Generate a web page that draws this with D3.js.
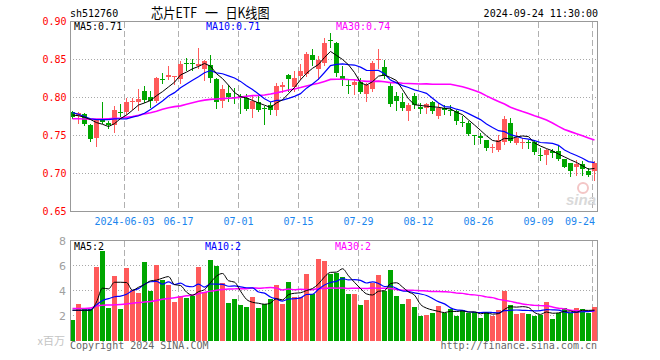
<!DOCTYPE html>
<html><head><meta charset="utf-8">
<script src="https://cdn.jsdelivr.net/npm/d3@7"></script>
<style>body{margin:0;background:#fff}svg{display:block}</style>
</head><body>
<svg id="c" width="660" height="360"></svg>
<script>
const dates = [
"2024-05-21","2024-05-22","2024-05-23","2024-05-24","2024-05-27","2024-05-28","2024-05-29","2024-05-30","2024-05-31",
"2024-06-03","2024-06-04","2024-06-05","2024-06-06","2024-06-07","2024-06-11","2024-06-12","2024-06-13","2024-06-14",
"2024-06-17","2024-06-18","2024-06-19","2024-06-20","2024-06-21","2024-06-24","2024-06-25","2024-06-26","2024-06-27","2024-06-28",
"2024-07-01","2024-07-02","2024-07-03","2024-07-04","2024-07-05","2024-07-08","2024-07-09","2024-07-10","2024-07-11","2024-07-12",
"2024-07-15","2024-07-16","2024-07-17","2024-07-18","2024-07-19","2024-07-22","2024-07-23","2024-07-24","2024-07-25","2024-07-26",
"2024-07-29","2024-07-30","2024-07-31","2024-08-01","2024-08-02","2024-08-05","2024-08-06","2024-08-07","2024-08-08","2024-08-09",
"2024-08-12","2024-08-13","2024-08-14","2024-08-15","2024-08-16","2024-08-19","2024-08-20","2024-08-21","2024-08-22","2024-08-23",
"2024-08-26","2024-08-27","2024-08-28","2024-08-29","2024-08-30","2024-09-02","2024-09-03","2024-09-04","2024-09-05","2024-09-06",
"2024-09-09","2024-09-10","2024-09-11","2024-09-12","2024-09-13","2024-09-18","2024-09-19","2024-09-20","2024-09-23","2024-09-24"];

const open = [0.7807,0.7760,0.7780,0.7636,0.7470,0.7700,0.7670,0.7640,0.7810,0.7803,
0.7940,0.7939,0.8088,0.8000,0.7956,0.8246,0.8268,0.8270,0.8246,0.8456,
0.8450,0.8412,0.8378,0.8430,0.8237,0.7960,0.8053,0.8007,0.8020,0.7996,
0.7855,0.7940,0.7864,0.7895,0.7842,0.8137,0.8294,0.8137,0.8282,0.8303,
0.8553,0.8369,0.8457,0.8763,0.8720,0.8282,0.8158,0.8158,0.8207,0.8040,
0.8118,0.8496,0.8400,0.8150,0.8018,0.7943,0.7821,0.8018,0.7873,0.7864,
0.7943,0.7755,0.7864,0.7842,0.7821,0.7680,0.7667,0.7505,0.7487,0.7447,
0.7338,0.7303,0.7417,0.7667,0.7404,0.7404,0.7417,0.7417,0.7241,0.7250,
0.7294,0.7294,0.7193,0.7141,0.7084,0.7128,0.7039,0.7039];
const high = [0.7825,0.7810,0.7794,0.7650,0.7720,0.7945,0.7690,0.7886,0.7910,0.7991,
0.7990,0.8114,0.8153,0.8088,0.8268,0.8320,0.8417,0.8285,0.8482,0.8526,
0.8510,0.8650,0.8490,0.8560,0.8260,0.8163,0.8163,0.8128,0.8040,0.8040,
0.8018,0.8018,0.7887,0.7943,0.8194,0.8207,0.8312,0.8347,0.8443,0.8601,
0.8632,0.8545,0.8786,0.8851,0.8730,0.8421,0.8237,0.8237,0.8260,0.8194,
0.8479,0.8632,0.8500,0.8194,0.8075,0.8062,0.7930,0.8062,0.7930,0.7930,
0.7960,0.7930,0.7900,0.7900,0.7842,0.7755,0.7690,0.7510,0.7536,0.7447,
0.7382,0.7505,0.7755,0.7724,0.7549,0.7470,0.7447,0.7426,0.7338,0.7316,
0.7316,0.7373,0.7193,0.7141,0.7184,0.7163,0.7075,0.7163];
const low = [0.7728,0.7670,0.7640,0.7430,0.7364,0.7660,0.7600,0.7544,0.7760,0.7780,
0.7850,0.7840,0.7940,0.7880,0.7940,0.8189,0.8246,0.8176,0.8189,0.8364,
0.8360,0.8386,0.8224,0.8210,0.7864,0.7874,0.7953,0.7930,0.7799,0.7842,
0.7742,0.7820,0.7645,0.7786,0.7776,0.8075,0.8084,0.8084,0.8237,0.8282,
0.8426,0.8237,0.8426,0.8663,0.8282,0.8171,0.8062,0.8049,0.8062,0.7953,
0.8084,0.8391,0.8260,0.7887,0.7829,0.7842,0.7710,0.7864,0.7799,0.7799,
0.7799,0.7733,0.7786,0.7764,0.7654,0.7624,0.7505,0.7382,0.7404,0.7303,
0.7286,0.7295,0.7391,0.7417,0.7391,0.7329,0.7338,0.7259,0.7184,0.7128,
0.7216,0.7184,0.7084,0.6966,0.6974,0.6983,0.6966,0.6921];
const close = [0.7746,0.7790,0.7650,0.7456,0.7706,0.7680,0.7640,0.7838,0.7790,0.7939,
0.7960,0.7980,0.7970,0.7956,0.8254,0.8224,0.8290,0.8280,0.8439,0.8439,
0.8440,0.8443,0.8480,0.8260,0.7943,0.8118,0.8009,0.8000,0.7987,0.7855,
0.7960,0.7842,0.7851,0.7842,0.8150,0.8159,0.8247,0.8260,0.8347,0.8575,
0.8492,0.8500,0.8720,0.8742,0.8316,0.8229,0.8145,0.8207,0.8075,0.8158,
0.8457,0.8510,0.8282,0.7908,0.7960,0.7864,0.7895,0.7900,0.7855,0.7917,
0.7821,0.7864,0.7829,0.7821,0.7697,0.7658,0.7522,0.7492,0.7470,0.7338,
0.7351,0.7447,0.7711,0.7426,0.7470,0.7417,0.7404,0.7286,0.7228,0.7303,
0.7268,0.7197,0.7092,0.7039,0.7128,0.7053,0.6974,0.7141];

const ma5 = [0.777,0.776,0.774,0.771,0.767,0.7648,0.7618,0.7656,0.7723,0.7769,
0.7833,0.7901,0.7928,0.7961,0.8024,0.8077,0.8139,0.8201,0.8297,0.8334,
0.8378,0.8408,0.8448,0.8412,0.8313,0.8249,0.8162,0.8066,0.8011,0.7994,
0.7962,0.7929,0.7899,0.787,0.7929,0.7969,0.805,0.8132,0.8233,0.8318,
0.8384,0.8435,0.8527,0.8606,0.8554,0.8501,0.843,0.8328,0.8194,0.8163,
0.8208,0.8281,0.8296,0.8263,0.8223,0.8105,0.7982,0.7905,0.7895,0.7886,
0.7878,0.7871,0.7857,0.785,0.7806,0.7774,0.7705,0.7638,0.7568,0.7496,
0.7435,0.742,0.7463,0.7455,0.7481,0.7494,0.7486,0.7401,0.7361,0.7328,
0.7298,0.7256,0.7218,0.718,0.7145,0.7102,0.7057,0.7067];
const ma10 = [0.780,0.778,0.775,0.772,0.771,0.771,0.771,0.772,0.772,0.772,
0.7741,0.776,0.7792,0.7842,0.7897,0.7955,0.802,0.8064,0.8129,0.8179,
0.8227,0.8274,0.8325,0.8355,0.8324,0.8313,0.8285,0.8257,0.8212,0.8154,
0.8106,0.8045,0.7983,0.7941,0.7961,0.7966,0.7989,0.8015,0.8051,0.8123,
0.8177,0.8242,0.8329,0.8419,0.8436,0.8443,0.8433,0.8427,0.84,0.8358,
0.8355,0.8356,0.8312,0.8229,0.8193,0.8157,0.8132,0.8101,0.8079,0.8055,
0.7991,0.7927,0.7881,0.7873,0.7846,0.7826,0.7788,0.7748,0.7709,0.7651,
0.7604,0.7563,0.7551,0.7511,0.7489,0.7464,0.7453,0.7432,0.7408,0.7404,
0.7396,0.7371,0.7309,0.727,0.7236,0.72,0.7157,0.7142];
const ma30 = [0.772,0.772,0.7718,0.7715,0.7715,0.7715,0.772,0.7725,0.773,0.774,
0.775,0.7765,0.7785,0.780,0.782,0.7845,0.7865,0.788,0.789,0.791,
0.793,0.795,0.7965,0.7975,0.798,0.7985,0.799,0.7995,0.8005,0.8017,
0.8025,0.8026,0.8033,0.8046,0.8061,0.8078,0.8098,0.8112,0.8131,0.8152,
0.817,0.8187,0.8212,0.8238,0.824,0.8241,0.8236,0.8233,0.8221,0.8212,
0.8212,0.8215,0.8208,0.8196,0.8197,0.8188,0.8185,0.8181,0.8177,0.8179,
0.8174,0.8175,0.8174,0.8174,0.8158,0.8142,0.8118,0.8092,0.8063,0.8021,
0.7983,0.7948,0.7915,0.7871,0.7843,0.7816,0.7791,0.776,0.7732,0.7703,
0.7664,0.762,0.758,0.7551,0.7524,0.7497,0.7466,0.7441];

const volume = [1.65,2.9,2.5,2.5,5.87,7.17,2.59,5.15,2.5,5.79,
4.05,3.79,6.27,3.97,6.05,4.85,4.43,3.07,3.6,3.39,
3.6,5.87,3.87,6.43,6.0,4.61,2.99,3.31,2.85,2.67,
3.47,2.59,2.93,3.33,4.45,2.93,4.69,3.52,3.52,5.33,
3.73,6.53,6.35,5.31,5.41,5.09,3.73,3.73,2.85,3.25,
4.64,5.23,4.0,5.65,3.57,2.93,3.31,2.67,1.97,2.05,
2.19,2.75,2.19,2.51,1.97,2.45,2.24,2.27,1.79,2.27,
1.97,2.45,3.97,2.83,2.11,2.19,2.11,1.97,2.05,3.07,
1.71,2.24,2.59,2.19,2.59,2.51,2.19,2.67];
const vma5 = [2.42,2.42,2.42,2.42,3.08,4.19,4.13,4.66,4.66,4.64,
4.02,4.26,4.48,4.77,4.83,4.99,5.11,4.47,4.4,3.87,
3.62,3.91,4.07,4.63,5.15,5.36,4.78,4.67,3.95,3.29,
3.06,2.98,2.9,3.0,3.35,3.25,3.67,3.78,3.82,4.0,
4.16,4.53,5.09,5.45,5.47,5.74,5.18,4.65,4.16,3.73,
3.64,3.94,3.99,4.55,4.62,4.28,3.89,3.63,2.89,2.59,
2.44,2.33,2.23,2.34,2.32,2.37,2.27,2.29,2.14,2.2,
2.11,2.15,2.49,2.7,2.67,2.71,2.64,2.24,2.09,2.28,
2.18,2.21,2.33,2.36,2.26,2.42,2.41,2.43];
const vma10 = [2.42,2.42,2.42,2.45,2.85,3.2,3.35,3.5,3.55,3.7,
4.0,4.15,4.5,4.7,4.73,4.5,4.69,4.48,4.59,4.35,
4.3,4.51,4.27,4.52,4.51,4.49,4.34,4.37,4.29,4.22,
4.21,3.88,3.79,3.48,3.32,3.15,3.32,3.34,3.41,3.68,
3.7,4.1,4.44,4.64,4.73,4.95,4.85,4.87,4.81,4.6,
4.69,4.56,4.32,4.36,4.17,3.96,3.92,3.81,3.72,3.6,
3.36,3.11,2.93,2.61,2.45,2.41,2.3,2.26,2.24,2.26,
2.24,2.21,2.39,2.42,2.44,2.41,2.4,2.37,2.39,2.47,
2.45,2.43,2.29,2.22,2.27,2.3,2.31,2.38];
const vma30 = [2.56,2.56,2.56,2.6,2.75,2.82,2.84,2.86,2.88,2.92,
2.98,3.03,3.08,3.12,3.2,3.3,3.36,3.42,3.5,3.58,
3.64,3.75,3.85,3.95,4.02,4.08,4.12,4.13,4.14,4.14,
4.2,4.19,4.21,4.24,4.19,4.05,4.12,4.06,4.1,4.08,
4.07,4.16,4.16,4.21,4.19,4.2,4.17,4.19,4.17,4.16,
4.2,4.18,4.18,4.16,4.08,4.02,4.03,4.01,3.98,3.96,
3.92,3.92,3.9,3.87,3.79,3.77,3.69,3.65,3.59,3.49,
3.43,3.29,3.21,3.13,3.02,2.92,2.87,2.81,2.79,2.78,
2.68,2.58,2.53,2.42,2.39,2.37,2.34,2.34];

const priceTicks = [0.65,0.70,0.75,0.80,0.85,0.90];
const volTicks = [2,4,6,8];
const dateTicks = ["2024-06-03","2024-06-17","2024-07-01","2024-07-15","2024-07-29","2024-08-12","2024-08-26","2024-09-09","2024-09-24"];
const dateTickLabels = ["2024-06-03","06-17","07-01","07-15","07-29","08-12","08-26","09-09","09-24"];

const RED = "#ff5a5a", GREEN = "#00a600";
const MONO = "'DejaVu Sans Mono', monospace";
const CJK = "'Noto Sans CJK SC', sans-serif";
const svg = d3.select("#c");
const L = 70, R = 598;
const x = d3.scaleBand().domain(dates).range([L, R]).paddingInner(1/6).paddingOuter(1/12).align(0);
const cx = d => x(d) + 2.5;
const yP = d3.scaleLinear().domain([0.65, 0.90]).range([211.5, 21.5]);
const yV = d3.scaleLinear().domain([0, 8]).range([340.5, 240.5]);

svg.append("rect").attr("width",660).attr("height",360).attr("fill","#fff");

// header
svg.append("text").attr("x",70).attr("y",17).attr("font-family",MONO).attr("font-size",10).attr("fill","#000").text("sh512760");
[{t:"芯片ETF", x:151, w:46}, {t:"一", x:205, w:13}, {t:"日K线图", x:225.5, w:44}].forEach(o =>
  svg.append("text").attr("x",o.x).attr("y",17.5).attr("font-family",CJK).attr("font-size",14)
    .attr("textLength",o.w).attr("lengthAdjust","spacingAndGlyphs").attr("fill","#000").text(o.t));
svg.append("text").attr("x",598).attr("y",17).attr("text-anchor","end").attr("font-family",MONO).attr("font-size",10).attr("fill","#000").text("2024-09-24 11:30:00");

// grids
const g = svg.append("g").attr("shape-rendering","crispEdges");
g.selectAll(".hp").data(priceTicks.filter(t => t > 0.65 && t < 0.90)).join("line")
  .attr("x1",L).attr("x2",R).attr("y1",d=>yP(d)).attr("y2",d=>yP(d))
  .attr("stroke","#a8a8a8").attr("stroke-dasharray","1,2");
g.selectAll(".hv").data(volTicks.filter(t => t < 8)).join("line")
  .attr("x1",L).attr("x2",R).attr("y1",d=>yV(d)).attr("y2",d=>yV(d))
  .attr("stroke","#a8a8a8").attr("stroke-dasharray","1,2");
dateTicks.forEach(d => {
  const xx = x(d) + 0.5;
  g.append("line").attr("x1",xx).attr("x2",xx).attr("y1",21.5).attr("y2",211.5)
    .attr("stroke","#b0b0b0").attr("stroke-dasharray","6,3");
  g.append("line").attr("x1",xx).attr("x2",xx).attr("y1",240.5).attr("y2",340.5)
    .attr("stroke","#b0b0b0").attr("stroke-dasharray","6,3");
});

// watermark
const wm = svg.append("g");
wm.append("circle").attr("cx",583).attr("cy",188).attr("r",5).attr("fill","none").attr("stroke","#f3c6c6").attr("stroke-width",2);
wm.append("text").attr("x",566).attr("y",205).attr("font-family","'Liberation Sans', sans-serif").attr("font-style","italic")
  .attr("font-weight","bold").attr("font-size",15).attr("fill","#d9d9d9").text("sina");

// candles
const idx = d3.range(dates.length);
const cg = svg.append("g").attr("shape-rendering","crispEdges");
cg.selectAll(".wick").data(idx).join("line")
  .attr("x1",i=>cx(dates[i])).attr("x2",i=>cx(dates[i]))
  .attr("y1",i=>Math.round(yP(high[i]))).attr("y2",i=>Math.round(yP(low[i]))+1)
  .attr("stroke",i=>close[i]>=open[i]?RED:GREEN);
cg.selectAll(".body").data(idx).join("rect")
  .attr("x",i=>x(dates[i])).attr("width",x.bandwidth())
  .attr("y",i=>Math.round(yP(Math.max(open[i],close[i]))))
  .attr("height",i=>Math.max(1, Math.round(yP(Math.min(open[i],close[i]))) - Math.round(yP(Math.max(open[i],close[i])))))
  .attr("fill",i=>close[i]>=open[i]?RED:GREEN);

// price MA lines
const pl = (arr) => d3.line().x((v,i)=>cx(dates[i])).y(v=>yP(v))(arr);
svg.append("path").attr("d",pl(ma30)).attr("fill","none").attr("stroke","#ff00ff").attr("stroke-width",1.6);
svg.append("path").attr("d",pl(ma10)).attr("fill","none").attr("stroke","#0000ff").attr("stroke-width",1.2);
svg.append("path").attr("d",pl(ma5)).attr("fill","none").attr("stroke","#000").attr("stroke-width",1);

// volume bars
const vg = svg.append("g").attr("shape-rendering","crispEdges");
vg.selectAll(".vb").data(idx).join("rect")
  .attr("x",i=>x(dates[i])).attr("width",x.bandwidth())
  .attr("y",i=>Math.round(yV(volume[i])))
  .attr("height",i=>341-Math.round(yV(volume[i])))
  .attr("fill",i=>close[i]>=open[i]?RED:GREEN);

const vl = (arr) => d3.line().curve(d3.curveMonotoneX).x((v,i)=>cx(dates[i])).y(v=>yV(v))(arr);
svg.append("path").attr("d",vl(vma30)).attr("fill","none").attr("stroke","#ff00ff").attr("stroke-width",1.5);
svg.append("path").attr("d",vl(vma10)).attr("fill","none").attr("stroke","#0000ff").attr("stroke-width",1.2);
svg.append("path").attr("d",vl(vma5)).attr("fill","none").attr("stroke","#000").attr("stroke-width",1);

// borders
const bg = svg.append("g").attr("shape-rendering","crispEdges").attr("stroke","#999").attr("fill","none");
bg.append("rect").attr("x",70.5).attr("y",21.5).attr("width",527).attr("height",190);
bg.append("path").attr("d","M70.5,341V240.5H597.5V341");

// price axis labels
svg.selectAll(".pt").data(priceTicks).join("text")
  .attr("x",66.5).attr("y",d=>yP(d)+3.5).attr("text-anchor","end")
  .attr("font-family",MONO).attr("font-size",10).attr("fill","#ff0000")
  .text(d=>d3.format(".2f")(d));
// volume axis labels
svg.selectAll(".vt").data(volTicks).join("text")
  .attr("x",66).attr("y",d=>yV(d)+4).attr("text-anchor","end")
  .attr("font-family","'DejaVu Sans', sans-serif").attr("font-size",11).attr("fill","#a0a0a0")
  .text(d=>d);
svg.append("text").attr("x",65).attr("y",345).attr("text-anchor","end")
  .attr("font-family",CJK).attr("font-size",11).attr("fill","#c4c4c4").text("x百万");

// date labels
dateTicks.forEach((d,k) => {
  const lab = dateTickLabels[k];
  const w = lab.length * 6.02;
  let xx = x(d) + 0.5;
  let anchor = "middle";
  if (xx + w/2 > R - 3) { xx = R - 3; anchor = "end"; }
  svg.append("text").attr("x",xx).attr("y",225).attr("text-anchor",anchor)
    .attr("font-family",MONO).attr("font-size",10).attr("fill","#1c86ee").text(lab);
});

// MA legends
const n = dates.length - 1;
const f2 = d3.format(".2f"), f0 = d3.format(".0f");
const leg = [
  {t:"MA5:"+f2(ma5[n]), x:74, c:"#000"},
  {t:"MA10:"+f2(ma10[n]), x:206, c:"#0000ff"},
  {t:"MA30:"+f2(ma30[n]), x:336, c:"#ff00ff"}];
leg.forEach(o => svg.append("text").attr("x",o.x).attr("y",30).attr("font-family",MONO).attr("font-size",10).attr("fill",o.c).text(o.t));
const vleg = [
  {t:"MA5:"+f0(vma5[n]), x:74, c:"#000"},
  {t:"MA10:"+f0(vma10[n]), x:205, c:"#0000ff"},
  {t:"MA30:"+f0(vma30[n]), x:335, c:"#ff00ff"}];
vleg.forEach(o => svg.append("text").attr("x",o.x).attr("y",250).attr("font-family",MONO).attr("font-size",10).attr("fill",o.c).text(o.t));

// footer
svg.append("text").attr("x",70).attr("y",349).attr("font-family",MONO).attr("font-size",10).attr("fill","#666").text("Copyright 2024 SINA.COM");
svg.append("text").attr("x",597).attr("y",349).attr("text-anchor","end").attr("font-family",MONO).attr("font-size",10).attr("fill","#666").text("http://finance.sina.com.cn");
</script>
</body></html>
